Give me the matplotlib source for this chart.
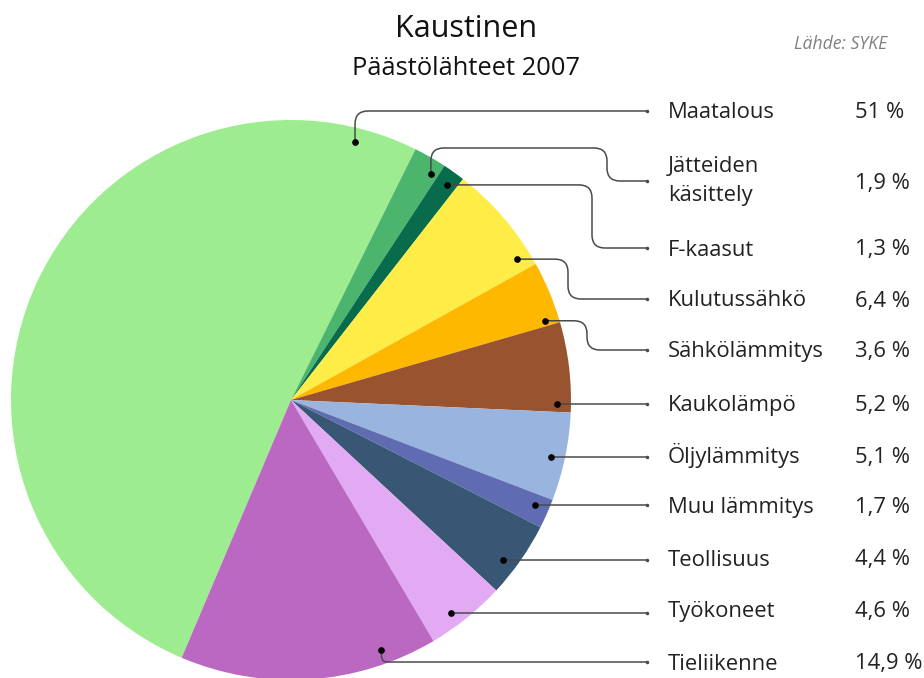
import numpy as np
import matplotlib
matplotlib.use("Agg")
import matplotlib.pyplot as plt
from matplotlib.path import Path
from matplotlib.patches import PathPatch

# ---- data ----
categories = ["Maatalous", "Jätteiden\nkäsittely", "F-kaasut", "Kulutussähkö",
              "Sähkölämmitys", "Kaukolämpö", "Öljylämmitys", "Muu lämmitys",
              "Teollisuus", "Työkoneet", "Tieliikenne"]
values = [51.0, 1.9, 1.3, 6.4, 3.6, 5.2, 5.1, 1.7, 4.4, 4.6, 14.9]
value_labels = ["51 %", "1,9 %", "1,3 %", "6,4 %", "3,6 %", "5,2 %", "5,1 %",
                "1,7 %", "4,4 %", "4,6 %", "14,9 %"]
title = "Kaustinen"
subtitle = "Päästölähteet 2007"
source = "Lähde: SYKE"

# ---- style / layout ----
colors = ["#9ded90", "#4bb56d", "#086b4c", "#feed47", "#feb800", "#99542f",
          "#98b4df", "#5f6cb2", "#385775", "#e1aaf2", "#bb68c3"]
W, H = 924, 678
cx, cy, R = 291, 400, 280           # pie centre/radius in pixels (y down)
first_boundary_deg = 63.6            # angle of Maatalous/Jätteiden boundary
row_y = [111, 181, 248, 299, 350, 403, 455, 505, 558, 610, 662]
dot_frac = [0.932, 0.78, 0.6, 0.874, 0.907, 0.904, 0.53, 0.39, 0.63, 0.62, 0.2]
dot_r = 0.95
route = ["vfirst", "lane", "elbow", "elbow", "elbow", "straight", "straight",
         "straight", "straight", "straight", "vfirst"]
elbow_x = [None, 607, 592, 568, 587, None, None, None, None, None, None]
lane_y = [None, 148, None, None, None, None, None, None, None, None, None]
line_end_x = 647
label_x = 668
value_x = 855
fs = 15.8

plt.rcParams['font.family'] = ['Open Sans', 'DejaVu Sans']

fig = plt.figure(figsize=(W / 100, H / 100), dpi=100)
ax = fig.add_axes([0, 0, 1, 1])

def Y(py):
    return H - py

total = sum(values)
start = first_boundary_deg + 360.0 * values[0] / total
wedges, _ = ax.pie(values, colors=colors, startangle=start, counterclock=False,
                   center=(cx, Y(cy)), radius=R,
                   wedgeprops=dict(linewidth=0, antialiased=True))
ax.set_xlim(0, W)
ax.set_ylim(0, H)
ax.set_aspect('auto')
ax.axis('off')


def rounded_path(pts, r=12):
    pts = [np.array(p, float) for p in pts]
    verts = [pts[0]]
    codes = [Path.MOVETO]
    for i in range(1, len(pts) - 1):
        A, P, B = pts[i - 1], pts[i], pts[i + 1]
        dA = np.linalg.norm(A - P)
        dB = np.linalg.norm(B - P)
        re = min(r, dA / 2, dB / 2)
        p1 = P + (A - P) / dA * re
        p2 = P + (B - P) / dB * re
        verts += [p1, P, p2]
        codes += [Path.LINETO, Path.CURVE3, Path.CURVE3]
    verts.append(pts[-1])
    codes.append(Path.LINETO)
    return Path(verts, codes)


for i, w in enumerate(wedges):
    t1, t2 = w.theta1, w.theta2
    ang = np.deg2rad(t2 - dot_frac[i] * (t2 - t1))
    dx = cx + dot_r * R * np.cos(ang)
    dy = cy - dot_r * R * np.sin(ang)      # pixel y (down)
    ry = row_y[i]
    pts = [(dx, dy)]
    if route[i] == "vfirst":
        pts += [(dx, ry), (line_end_x, ry)]
    elif route[i] == "elbow":
        pts += [(elbow_x[i], dy), (elbow_x[i], ry), (line_end_x, ry)]
    elif route[i] == "lane":
        pts += [(dx, lane_y[i]), (elbow_x[i], lane_y[i]), (elbow_x[i], ry),
                (line_end_x, ry)]
    else:
        ry = dy
        pts += [(line_end_x, dy)]
    pts_up = [(x, Y(y)) for x, y in pts]
    ax.add_patch(PathPatch(rounded_path(pts_up, 13), fill=False,
                           edgecolor="#4a4a4a", lw=1.1, capstyle='round',
                           joinstyle='round', zorder=3))
    ax.plot([dx], [Y(dy)], 'o', color='black', ms=3.8, zorder=4)
    ax.plot([line_end_x], [Y(ry)], 'o', color='#4a4a4a', ms=1.5, zorder=4)

    # labels
    lab_y = row_y[i]
    if "\n" in categories[i]:
        l1, l2 = categories[i].split("\n")
        ax.text(label_x, Y(lab_y - 9), l1, fontsize=fs, color='#222222',
                ha='left', va='baseline')
        ax.text(label_x, Y(lab_y + 19.5), l2, fontsize=fs, color='#222222',
                ha='left', va='baseline')
    else:
        ax.text(label_x, Y(lab_y + 7.5), categories[i], fontsize=fs,
                color='#222222', ha='left', va='baseline')
    ax.text(value_x, Y(lab_y + 7.5), value_labels[i], fontsize=fs,
            color='#222222', ha='left', va='baseline')

ax.text(466, Y(36.7), title, fontsize=22, color='#111111', ha='center',
        va='baseline')
ax.text(466.5, Y(75), subtitle, fontsize=18.4, color='#111111', ha='center',
        va='baseline')
ax.text(887, Y(49), source, fontsize=12.7, color='#808080', ha='right',
        va='baseline', style='italic')

fig.savefig("out.png", dpi=100)
